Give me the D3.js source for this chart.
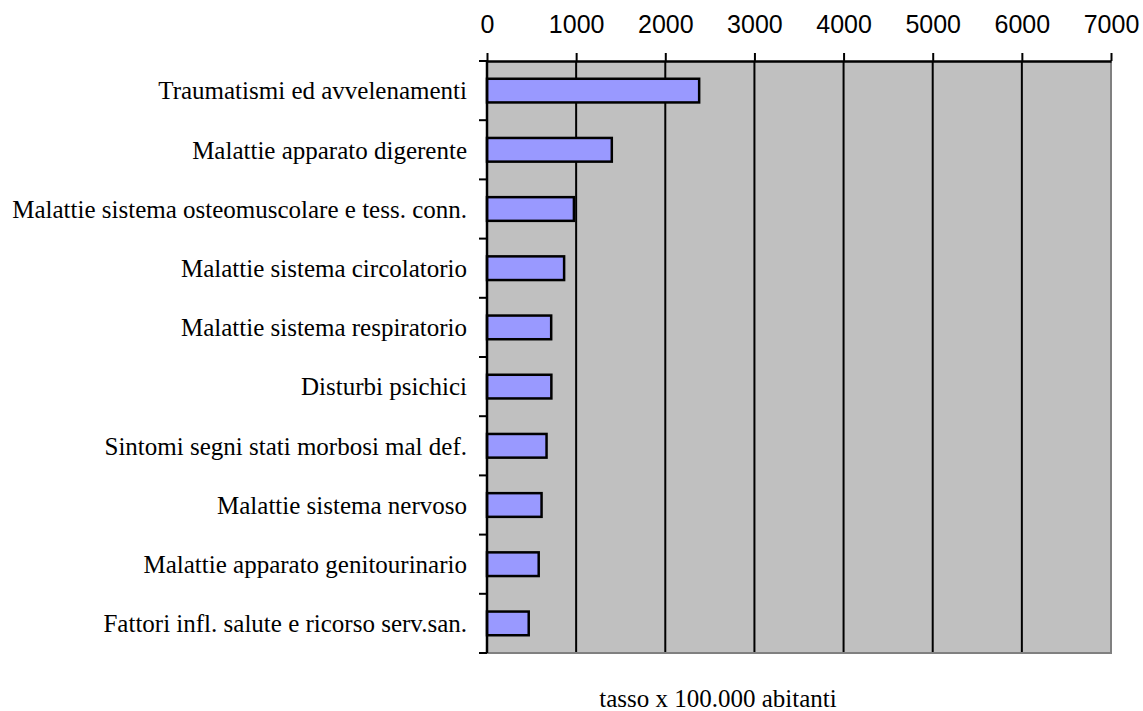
<!DOCTYPE html>
<html>
<head>
<meta charset="utf-8">
<script src="https://cdn.jsdelivr.net/npm/d3@7"></script>
<style>
  body { margin: 0; background: #fff; }
  svg { display: block; }
</style>
</head>
<body>
<script>
// categories, top to bottom
const categories = [
    'Traumatismi ed avvelenamenti',
    'Malattie apparato digerente',
    'Malattie sistema osteomuscolare e tess. conn.',
    'Malattie sistema circolatorio',
    'Malattie sistema respiratorio',
    'Disturbi psichici',
    'Sintomi segni stati morbosi mal def.',
    'Malattie sistema nervoso',
    'Malattie apparato genitourinario',
    'Fattori infl. salute e ricorso serv.san.'
];
// tasso x 100.000 abitanti
const values = [2380, 1400, 975, 865, 720, 722, 668, 612, 580, 468];
const xTicks = [0, 1000, 2000, 3000, 4000, 5000, 6000, 7000];
const axisTitle = 'tasso x 100.000 abitanti';

const width = 1143, height = 711;
const margin = { top: 61, right: 32, bottom: 58, left: 487 };
const innerW = width - margin.left - margin.right;
const innerH = height - margin.top - margin.bottom;

const svg = d3.select('body')
    .append('svg')
    .attr('width', width)
    .attr('height', height);

const g = svg.append('g')
    .attr('transform', `translate(${margin.left},${margin.top})`);

const x = d3.scaleLinear()
    .domain([0, 7000])
    .range([0, innerW]);

const y = d3.scaleBand()
    .domain(categories)
    .range([0, innerH])
    .paddingInner(0.6)
    .paddingOuter(0.3);

// plot background
g.append('rect')
    .attr('width', innerW)
    .attr('height', innerH)
    .attr('fill', '#c0c0c0');

// vertical gridlines
g.selectAll('.grid')
    .data(xTicks.slice(1, -1))
    .enter().append('line')
    .attr('class', 'grid')
    .attr('x1', d => x(d))
    .attr('x2', d => x(d))
    .attr('y1', 0)
    .attr('y2', innerH)
    .attr('stroke', '#000')
    .attr('stroke-width', 2);

// right and bottom border (grey)
g.append('path')
    .attr('d', `M${innerW},0V${innerH}H0`)
    .attr('fill', 'none')
    .attr('stroke', '#808080')
    .attr('stroke-width', 2);

// bars
g.selectAll('.bar')
    .data(values)
    .enter().append('rect')
    .attr('class', 'bar')
    .attr('x', 0)
    .attr('y', (d, i) => y(categories[i]))
    .attr('width', d => x(d))
    .attr('height', y.bandwidth())
    .attr('fill', '#9999ff')
    .attr('stroke', '#000')
    .attr('stroke-width', 2.5);

// top axis
const xAxis = g.append('g')
    .call(d3.axisTop(x)
        .tickValues(xTicks)
        .tickFormat(d3.format('d'))
        .tickSize(8).tickSizeOuter(0).tickPadding(20));
xAxis.select('.domain').attr('stroke-width', 2.5);
xAxis.selectAll('.tick line').attr('stroke-width', 2);
xAxis.selectAll('text')
    .attr('font-family', 'Liberation Sans, Arial, sans-serif')
    .attr('font-size', 25)
    .attr('fill', '#000');

// left axis: ticks at category boundaries
const step = innerH / categories.length;
const yAxisG = g.append('g');
yAxisG.append('line')
    .attr('x1', 0).attr('x2', 0)
    .attr('y1', 0).attr('y2', innerH)
    .attr('stroke', '#000')
    .attr('stroke-width', 2.5);
yAxisG.selectAll('.ytick')
    .data(d3.range(categories.length + 1))
    .enter().append('line')
    .attr('class', 'ytick')
    .attr('x1', -8).attr('x2', 0)
    .attr('y1', d => d * step)
    .attr('y2', d => d * step)
    .attr('stroke', '#000')
    .attr('stroke-width', 2);

yAxisG.selectAll('.ylabel')
    .data(categories)
    .enter().append('text')
    .attr('class', 'ylabel')
    .attr('x', -20)
    .attr('y', d => y(d) + y.bandwidth() / 2)
    .attr('dy', '0.35em')
    .attr('text-anchor', 'end')
    .attr('font-family', 'Liberation Serif, Times New Roman, serif')
    .attr('font-size', 25)
    .attr('fill', '#000')
    .text(d => d);

// axis title
svg.append('text')
    .attr('x', 718)
    .attr('y', 707)
    .attr('text-anchor', 'middle')
    .attr('font-family', 'Liberation Serif, Times New Roman, serif')
    .attr('font-size', 25)
    .attr('fill', '#000')
    .text(axisTitle);
</script>
</body>
</html>
